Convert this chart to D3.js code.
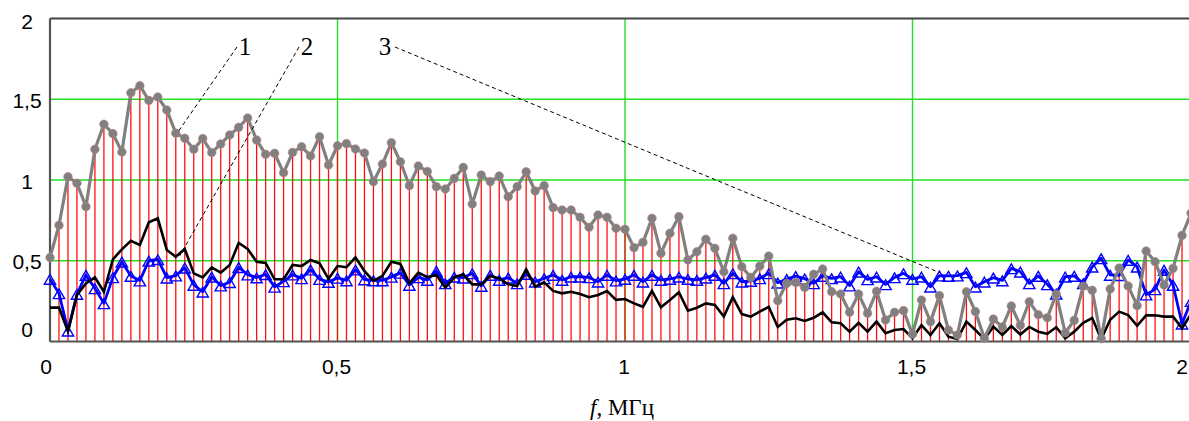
<!DOCTYPE html>
<html><head><meta charset="utf-8">
<script src="https://cdn.jsdelivr.net/npm/d3@7"></script>
<style>body{margin:0;background:#fff}svg{display:block}</style>
</head><body><svg id="c" width="1189" height="421"></svg>
<script>
const freqStep = 1/64; // MHz between samples
const series1 = [0.52,0.72,1.02,0.98,0.835,1.19,1.345,1.287,1.173,1.54,1.584,1.493,1.514,1.433,1.29,1.258,1.19,1.256,1.17,1.223,1.279,1.326,1.384,1.247,1.159,1.165,1.045,1.171,1.206,1.149,1.268,1.093,1.212,1.225,1.192,1.167,0.99,1.099,1.231,1.113,0.965,1.087,1.053,0.959,0.944,1.01,1.078,0.851,1.031,0.99,1.025,0.897,0.959,1.051,0.932,0.965,0.829,0.814,0.814,0.769,0.707,0.783,0.769,0.701,0.695,0.581,0.614,0.763,0.546,0.67,0.773,0.505,0.556,0.633,0.577,0.432,0.639,0.463,0.397,0.467,0.529,0.253,0.36,0.366,0.335,0.416,0.449,0.308,0.294,0.181,0.294,0.175,0.311,0.133,0.181,0.191,0.045,0.257,0.123,0.284,0.071,0.04,0.308,0.185,0.02,0.139,0.09,0.22,0.1,0.246,0.166,0.147,0.293,0.054,0.131,0.342,0.317,0.018,0.325,0.455,0.344,0.222,0.56,0.494,0.35,0.453,0.657,0.794,0.9];
const series2 = [0.21,0.21,0.061,0.288,0.36,0.397,0.308,0.509,0.571,0.624,0.598,0.738,0.763,0.567,0.525,0.573,0.422,0.397,0.459,0.426,0.474,0.61,0.573,0.494,0.486,0.385,0.385,0.474,0.467,0.505,0.484,0.388,0.467,0.46,0.521,0.436,0.375,0.406,0.494,0.48,0.36,0.426,0.398,0.412,0.333,0.397,0.416,0.354,0.354,0.406,0.391,0.354,0.344,0.447,0.339,0.367,0.313,0.298,0.308,0.294,0.274,0.288,0.313,0.258,0.263,0.236,0.215,0.313,0.212,0.257,0.305,0.191,0.209,0.236,0.226,0.154,0.274,0.17,0.154,0.185,0.215,0.09,0.135,0.144,0.127,0.147,0.181,0.119,0.113,0.061,0.116,0.061,0.123,0.051,0.071,0.077,0.02,0.102,0.04,0.113,0.03,0.015,0.123,0.071,0.015,0.092,0.04,0.095,0.043,0.09,0.061,0.048,0.088,0.02,0.061,0.116,0.145,0.015,0.135,0.185,0.164,0.097,0.162,0.162,0.154,0.154,0.082,0.17,0.25];
const series3 = [0.387,0.298,0.067,0.294,0.412,0.329,0.236,0.397,0.494,0.406,0.377,0.5,0.509,0.395,0.408,0.457,0.35,0.308,0.401,0.346,0.367,0.46,0.414,0.396,0.416,0.338,0.372,0.414,0.391,0.445,0.386,0.368,0.394,0.378,0.445,0.384,0.378,0.378,0.4,0.425,0.35,0.397,0.381,0.437,0.36,0.401,0.395,0.422,0.344,0.412,0.381,0.395,0.36,0.418,0.37,0.391,0.412,0.381,0.401,0.401,0.397,0.37,0.412,0.377,0.387,0.412,0.37,0.412,0.381,0.387,0.401,0.387,0.381,0.395,0.412,0.36,0.422,0.37,0.375,0.391,0.422,0.364,0.386,0.405,0.389,0.36,0.406,0.391,0.401,0.346,0.432,0.385,0.401,0.354,0.397,0.422,0.387,0.401,0.339,0.408,0.406,0.408,0.428,0.339,0.37,0.395,0.378,0.453,0.432,0.36,0.406,0.354,0.296,0.401,0.406,0.36,0.463,0.515,0.412,0.41,0.505,0.463,0.29,0.323,0.443,0.35,0.11,0.25,0.35];
const xTicks = [0, 0.5, 1, 1.5, 2];
const xTickLabels = ["0", "0,5", "1", "1,5", "2"];
const yTicks = [0, 0.5, 1, 1.5, 2];
const yTickLabels = ["0", "0,5", "1", "1,5", "2"];
const callouts = [
  {label: "1", series: 0, idx: 14},
  {label: "2", series: 1, idx: 14},
  {label: "3", series: 2, idx: 99}
];

const svg = d3.select("#c");
const W = 1189;
const x = d3.scaleLinear().domain([0, 2]).range([50, 1200]);
const y = d3.scaleLinear().domain([0, 2]).range([341.5, 18.5]);
const freqs = series1.map((_, i) => i * freqStep);

// grid
const g = svg.append("g");
g.selectAll(".gx").data([0.5, 1, 1.5]).join("line")
  .attr("x1", d => x(d)).attr("x2", d => x(d)).attr("y1", y(0)).attr("y2", y(2))
  .attr("stroke", "#22e022").attr("stroke-width", 1.4);
g.selectAll(".gy").data([0.5, 1, 1.5]).join("line")
  .attr("x1", x(0)).attr("x2", x(2)).attr("y1", d => y(d)).attr("y2", d => y(d))
  .attr("stroke", "#22e022").attr("stroke-width", 1.4);

// stems
svg.append("g").selectAll("line").data(series1).join("line")
  .attr("x1", (d, i) => x(freqs[i])).attr("x2", (d, i) => x(freqs[i]))
  .attr("y1", y(0)).attr("y2", d => y(d))
  .attr("stroke", "#ff1010").attr("stroke-width", 1.3);

// axes frame
svg.append("line").attr("x1", x(0)).attr("x2", x(2)).attr("y1", y(0)).attr("y2", y(0))
  .attr("stroke", "#555").attr("stroke-width", 2.2);
svg.append("line").attr("x1", x(0)).attr("x2", x(2)).attr("y1", y(2)).attr("y2", y(2))
  .attr("stroke", "#444").attr("stroke-width", 2);
svg.append("line").attr("x1", x(0)).attr("x2", x(0)).attr("y1", y(0)).attr("y2", y(2))
  .attr("stroke", "#555").attr("stroke-width", 2.2);

const line = d3.line().x((d, i) => x(freqs[i])).y(d => y(d));

// blue series
svg.append("path").datum(series3).attr("d", line).attr("fill", "none")
  .attr("stroke", "#0000ff").attr("stroke-width", 2.8).attr("stroke-linejoin", "round");
svg.append("g").selectAll("path").data(series3).join("path")
  .attr("d", d3.symbol(d3.symbolTriangle, 55))
  .attr("transform", (d, i) => `translate(${x(freqs[i])},${y(d) + 2})`)
  .attr("fill", "none").attr("stroke", "#0000ff").attr("stroke-width", 1.4);

// black series
svg.append("path").datum(series2).attr("d", line).attr("fill", "none")
  .attr("stroke", "#000").attr("stroke-width", 2.6).attr("stroke-linejoin", "miter");

// gray series
svg.append("path").datum(series1).attr("d", line).attr("fill", "none")
  .attr("stroke", "#808080").attr("stroke-width", 3.2).attr("stroke-linejoin", "round");
svg.append("g").selectAll("circle").data(series1).join("circle")
  .attr("cx", (d, i) => x(freqs[i])).attr("cy", d => y(d)).attr("r", 4.3)
  .attr("fill", "#808080").attr("stroke", "#c08080").attr("stroke-width", 0.6);

// callouts
const seriesList = [series1, series2, series3];
const labelPos = [[245, 47], [307, 47], [385, 47]];
callouts.forEach((c, k) => {
  const [lx, ly] = labelPos[k];
  const tx = x(freqs[c.idx]), ty = y(seriesList[c.series][c.idx]);
  const sx = k === 2 ? lx + 10 : lx - 8;
  svg.append("line").attr("x1", sx).attr("y1", ly).attr("x2", tx + (k===1? 4 : (k===2? 0 : 2))).attr("y2", k===2 ? ty - 3 : ty - 1)
    .attr("stroke", "#000").attr("stroke-width", 1).attr("stroke-dasharray", "4,3");
  svg.append("text").attr("x", lx).attr("y", ly + 8).attr("text-anchor", "middle")
    .attr("font-family", "Liberation Serif, Times New Roman, serif").attr("font-size", 25)
    .text(c.label);
});

// tick labels
svg.append("g").selectAll("text").data(xTicks).join("text")
  .attr("x", (d, i) => Math.min(x(d) + (i === 0 ? -4 : -1), W - 1))
  .attr("y", 374)
  .attr("text-anchor", d => x(d) > W - 10 ? "end" : "middle")
  .attr("font-family", "Liberation Sans, Arial, sans-serif").attr("font-size", 21)
  .text((d, i) => xTickLabels[i]);
svg.append("g").selectAll("text").data(yTicks).join("text")
  .attr("x", 27).attr("y", (d, i) => y(d) + (d === 0 ? -12 : d === 2 ? 3 : 1) + 7.5)
  .attr("text-anchor", "middle")
  .attr("font-family", "Liberation Sans, Arial, sans-serif").attr("font-size", 21)
  .text((d, i) => yTickLabels[i]);

// axis title
const t = svg.append("text").attr("x", 622).attr("y", 415).attr("text-anchor", "middle")
  .attr("font-family", "Liberation Serif, Times New Roman, serif").attr("font-size", 23);
t.append("tspan").attr("font-style", "italic").text("f");
t.append("tspan").text(", МГц");
</script></body></html>
